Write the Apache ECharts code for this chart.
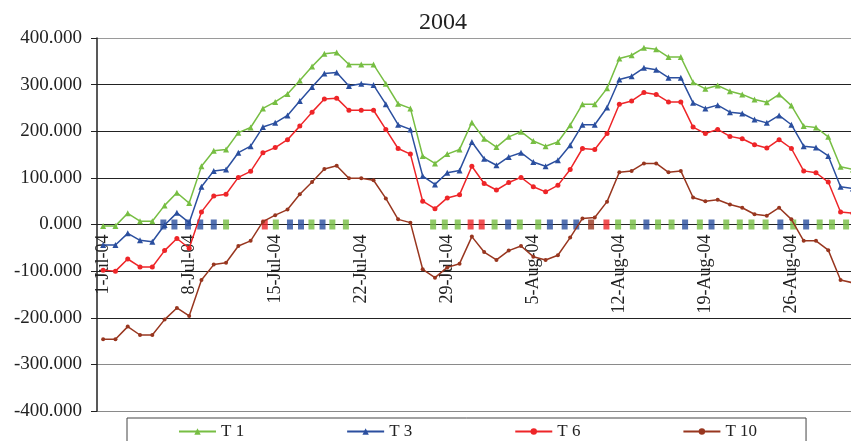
<!DOCTYPE html>
<html>
<head>
<meta charset="utf-8">
<script src="https://cdn.jsdelivr.net/npm/echarts@6/dist/echarts.min.js"></script>
<style>
  html, body { margin: 0; padding: 0; background: #fff; }
  #chart { width: 851px; height: 441px; }
</style>
</head>
<body>
<div id="chart"></div>
<script>
// daily dates, 1 Jul - 31 Aug 2004
const dates = [
  '1-Jul-04','2-Jul-04','3-Jul-04','4-Jul-04','5-Jul-04','6-Jul-04','7-Jul-04','8-Jul-04',
  '9-Jul-04','10-Jul-04','11-Jul-04','12-Jul-04','13-Jul-04','14-Jul-04','15-Jul-04','16-Jul-04',
  '17-Jul-04','18-Jul-04','19-Jul-04','20-Jul-04','21-Jul-04','22-Jul-04','23-Jul-04','24-Jul-04',
  '25-Jul-04','26-Jul-04','27-Jul-04','28-Jul-04','29-Jul-04','30-Jul-04','31-Jul-04','1-Aug-04',
  '2-Aug-04','3-Aug-04','4-Aug-04','5-Aug-04','6-Aug-04','7-Aug-04','8-Aug-04','9-Aug-04',
  '10-Aug-04','11-Aug-04','12-Aug-04','13-Aug-04','14-Aug-04','15-Aug-04','16-Aug-04','17-Aug-04',
  '18-Aug-04','19-Aug-04','20-Aug-04','21-Aug-04','22-Aug-04','23-Aug-04','24-Aug-04','25-Aug-04',
  '26-Aug-04','27-Aug-04','28-Aug-04','29-Aug-04','30-Aug-04','31-Aug-04'
]

const t1 = [-3, -3, 24, 7, 7, 41, 68, 46, 125, 158, 161, 197, 208, 249, 263, 280,
  309, 339, 366, 369, 343, 343, 343, 302, 259, 249, 147, 131, 151, 161, 219,
  184, 166, 188, 199, 179, 168, 177, 213, 258, 258, 292, 356, 363, 379, 376,
  359, 359, 305, 291, 298, 286, 279, 268, 262, 279, 255, 211, 208, 188, 124, 118]

const t3 = [-44, -44, -19, -34, -37, -1, 25, 4, 81, 115, 118, 154, 168, 209, 218, 234,
  265, 295, 324, 326, 297, 302, 299, 258, 214, 204, 104, 86, 111, 116, 177,
  141, 127, 145, 154, 134, 125, 138, 170, 214, 214, 251, 311, 318, 336, 332,
  315, 315, 261, 249, 256, 241, 238, 225, 218, 234, 214, 168, 165, 147, 81, 77]

const t6 = [-98, -100, -74, -91, -91, -56, -30, -51, 27, 61, 65, 101, 114, 154, 165, 182,
  211, 241, 269, 271, 245, 245, 245, 204, 163, 151, 50, 34, 57, 64, 125,
  88, 74, 90, 101, 81, 70, 84, 118, 163, 161, 195, 258, 265, 283, 279,
  263, 263, 209, 195, 204, 189, 184, 171, 164, 182, 163, 115, 111, 91, 27, 24]

const t10 = [-246, -246, -219, -237, -237, -204, -179, -196, -119, -86, -82, -46, -35, 6, 20, 32,
  65, 91, 119, 126, 99, 99, 95, 56, 11, 4, -96, -114, -92, -84, -26,
  -59, -76, -56, -46, -69, -76, -66, -28, 13, 15, 49, 112, 115, 131, 131,
  112, 115, 58, 50, 53, 43, 36, 22, 19, 36, 11, -35, -35, -55, -119, -125]

// small flags on the zero line: position along the axis (in days) and which series
const flagPos = [5.4, 6.3, 7.4, 8.4, 9.5, 10.5, 13.65, 14.55, 15.7, 16.6, 17.45, 18.35, 19.15, 20.25,
  27.35, 28.3, 29.35, 30.4, 31.3, 32.35, 33.45, 34.4, 35.9, 36.85, 38.05, 39.0, 40.2, 41.45,
  42.4, 43.6, 44.7, 45.65, 46.75, 47.85, 49.05, 50.0, 51.2, 52.3, 53.25, 54.4, 55.6, 56.65,
  57.7, 58.8, 59.8, 60.95]
const flagSeries = ['T 3','T 3','T 3','T 3','T 3','T 1','T 6','T 1','T 3','T 3','T 1','T 3','T 1','T 1',
  'T 1','T 1','T 1','T 6','T 6','T 1','T 3','T 1','T 1','T 3','T 3','T 3','T 10','T 6',
  'T 1','T 1','T 3','T 1','T 1','T 3','T 1','T 3','T 1','T 1','T 1','T 1','T 3','T 1',
  'T 3','T 1','T 1','T 1']

const yTicks = [-400, -300, -200, -100, 0, 100, 200, 300, 400]

const colors = { 'T 1': '#77BE43', 'T 3': '#2B4F9F', 'T 6': '#EE2528', 'T 10': '#98361F' }
const serif = 'Liberation Serif'

const chart = echarts.init(document.getElementById('chart'), null, { renderer: 'canvas' })

function lineSeries(name, data, symbol, size) {
  return {
    name: name,
    type: 'line',
    data: data,
    z: 3,
    symbol: symbol,
    symbolSize: size,
    showAllSymbol: true,
    lineStyle: { color: colors[name], width: 1.5 },
    itemStyle: { color: colors[name] }
  }
}

const H = 441
const plotRect = { left: 97, right: -8, top: 38, bottom: 30, outerBoundsMode: 'none' }
// the date axis runs along y = 0, which is the middle of the symmetric value range
const plotHeight = H - plotRect.top - plotRect.bottom
const zeroOffset = -plotHeight / 2

chart.setOption({
  animation: false,
  title: {
    text: '2004',
    left: 414,
    top: 6,
    textStyle: { fontFamily: serif, fontSize: 24, fontWeight: 'normal', color: '#222' }
  },
  legend: {
    data: ['T 1', 'T 3', 'T 6', 'T 10'],
    left: 127,
    top: 418,
    itemWidth: 37,
    itemHeight: 8,
    itemGap: 102,
    padding: [5, 49, 20, 51],
    borderColor: '#444',
    borderWidth: 1,
    textStyle: { fontFamily: serif, fontSize: 17, color: '#222' }
  },
  // second grid sits on top of the first, only to place the flags along a day scale
  grid: [plotRect, Object.assign({}, plotRect)],
  xAxis: [{
    type: 'category',
    gridIndex: 0,
    data: dates,
    boundaryGap: true,
    position: 'bottom',
    offset: zeroOffset,
    axisLine: { onZero: false, lineStyle: { color: '#222', width: 1 } },
    axisTick: { interval: 6, length: 5, lineStyle: { color: '#222' } },
    axisLabel: {
      interval: 6,
      rotate: 90,
      margin: 10,
      fontFamily: serif,
      fontSize: 18,
      color: '#222'
    },
    splitLine: { show: false }
  }, {
    type: 'value',
    gridIndex: 1,
    min: 0,
    max: dates.length,
    show: false
  }],
  yAxis: [{
    type: 'value',
    gridIndex: 0,
    min: yTicks[0],
    max: yTicks[yTicks.length - 1],
    interval: 100,
    axisLine: { show: true, onZero: false, lineStyle: { color: '#222', width: 1.5 } },
    axisTick: { show: true, length: 6, lineStyle: { color: '#222' } },
    axisLabel: {
      margin: 15,
      fontFamily: serif,
      fontSize: 19,
      color: '#222',
      formatter: v => v.toFixed(3)
    },
    splitLine: {
      lineStyle: {
        color: ['#8a8a8a', '#8a8a8a', '#222', '#222', '#222', '#222', '#222', '#222', '#9a9a9a'],
        width: 1.2
      }
    }
  }, {
    type: 'value',
    gridIndex: 1,
    min: yTicks[0],
    max: yTicks[yTicks.length - 1],
    show: false
  }],
  series: [
    {
      name: 'flags',
      type: 'scatter',
      xAxisIndex: 1,
      yAxisIndex: 1,
      z: 2,
      symbol: 'rect',
      symbolSize: [6, 10],
      data: flagPos.map((p, k) => ({ value: [p, 0], itemStyle: { color: colors[flagSeries[k]] } }))
    },
    lineSeries('T 1', t1, 'triangle', 6),
    lineSeries('T 3', t3, 'triangle', 6),
    lineSeries('T 6', t6, 'circle', 5),
    lineSeries('T 10', t10, 'circle', 4)
  ]
})
</script>
</body>
</html>
